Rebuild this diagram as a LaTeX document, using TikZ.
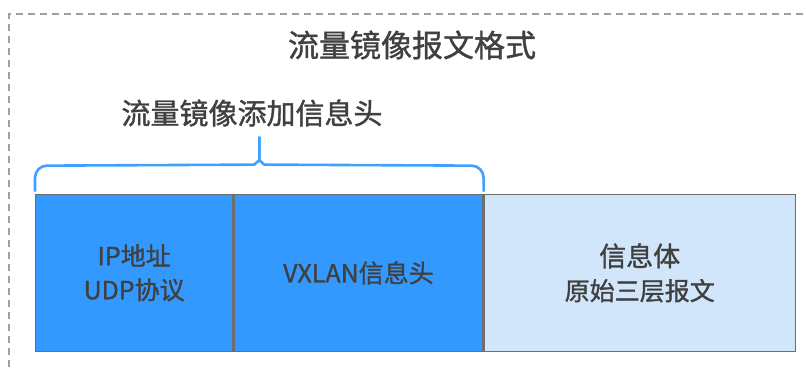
\documentclass[tikz,border=0pt]{standalone}
\usepackage{fontspec}
\setmainfont{Noto Sans CJK SC}[FakeBold=1.2]
\usetikzlibrary{positioning,calc}
\definecolor{hdrblue}{RGB}{51,153,255}
\definecolor{bodyblue}{RGB}{209,230,250}
\definecolor{braceblue}{RGB}{64,160,255}
\definecolor{txtgray}{RGB}{64,64,64}
\definecolor{edgegray}{RGB}{110,110,110}
\begin{document}
\begin{tikzpicture}[x=1pt, y=1pt,
    cell/.style={draw=edgegray, line width=1.3pt, anchor=south west,
                 minimum height=157pt, inner sep=0pt, align=center,
                 text=txtgray, font=\fontsize{25}{34}\selectfont},
    hdr/.style={cell, fill=hdrblue},
    body/.style={cell, fill=bodyblue},
    ttl/.style={text=txtgray, inner sep=0pt},
    brc/.style={draw=braceblue, line width=2.6pt, rounded corners=12pt}
  ]
  \clip (0,0) rectangle (806,371);
  \useasboundingbox (0,0) rectangle (806,371);
  %% --- outer frame ---
  \draw[gray!75, line width=1.3pt, dash pattern=on 7pt off 5pt]
        (9,-20) -- (9,357) -- (830,357);
  %% --- titles ---
  \node[ttl, font=\fontsize{31}{36}\selectfont] (title) at (412,326) {流量镜像报文格式};
  \node[ttl, font=\fontsize{29}{34}\selectfont] (sub)   at (252,258) {流量镜像添加信息头};
  %% --- packet fields ---
  \node[hdr, minimum width=197pt] (ip) at (35,19) {IP地址\\UDP协议};
  \node[hdr, minimum width=249pt, anchor=south west] (vx) at (ip.south east) {VXLAN信息头};
  \node[body, minimum width=311pt, anchor=south west] (pl) at (vx.south east)
        {\fontsize{27}{35}\selectfont 信息体\\原始三层报文};
  %% --- brace over the added header ---
  \coordinate (bl) at ($(ip.north west)+(0,2)$);
  \coordinate (br) at ($(vx.north east)+(0,2)$);
  \coordinate (tip) at ($(ip.north west)!0.5!(vx.north east)+(0,49)$);
  \draw[brc] (bl) -- ++(0,26) -- ($(tip)+(-17,-20)$)
        .. controls ($(tip)+(-5,-20)$) and ($(tip)+(0,-15)$) .. ($(tip)+(0,-4)$)
        -- (tip);
  \draw[brc] (br) -- ++(0,26) -- ($(tip)+(17,-20)$)
        .. controls ($(tip)+(5,-20)$) and ($(tip)+(0,-15)$) .. ($(tip)+(0,-4)$)
        -- (tip);
\end{tikzpicture}
\end{document}
